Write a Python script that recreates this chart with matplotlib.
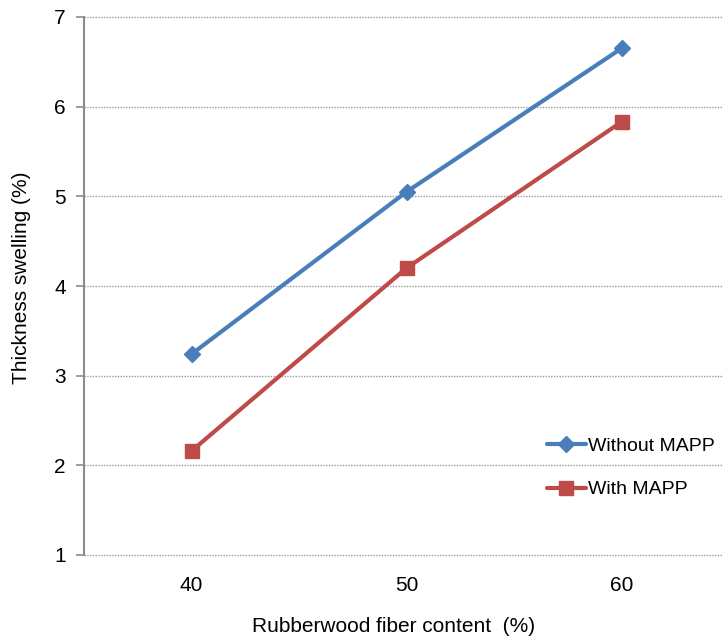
import matplotlib
matplotlib.use("Agg")
import matplotlib.pyplot as plt

categories = ["40", "50", "60"]
without_mapp = [3.24, 5.05, 6.65]
with_mapp = [2.16, 4.20, 5.83]
yticks = [1, 2, 3, 4, 5, 6, 7]

plt.rcParams['font.family'] = ['Liberation Sans', 'DejaVu Sans']

W, H = 722, 642
fig = plt.figure(figsize=(W/100, H/100), dpi=100)
left, right, top, bottom = 84, 729, 17, 555
ax = fig.add_axes([left/W, (H-bottom)/H, (right-left)/W, (bottom-top)/H])

x = list(range(len(categories)))
ax.plot(x, without_mapp, color='#4A7EBB', lw=3, marker='D', ms=8,
        label='Without MAPP', solid_capstyle='round')
ax.plot(x, with_mapp, color='#BE4B48', lw=3, marker='s', ms=10,
        label='With MAPP', solid_capstyle='round')

ax.set_xlim(-0.5, 2.5)
ax.set_ylim(1, 7)
ax.set_yticks(yticks)
ax.set_yticklabels([str(t) for t in yticks])
ax.set_xticks(x)
ax.set_xticklabels(categories)
ax.yaxis.grid(True, color='#999999', linestyle=(0, (1, 1)), lw=1)
for gl in ax.get_ygridlines():
    gl.set_clip_on(False)
ax.set_axisbelow(True)
for s in ['top', 'right', 'bottom']:
    ax.spines[s].set_visible(False)
ax.spines['left'].set_color('#8c8c8c')
ax.spines['left'].set_linewidth(1.5)
ax.tick_params(axis='y', length=6, color='#8c8c8c', width=1.2, labelsize=15, pad=7)
ax.tick_params(axis='x', length=0, labelsize=15, pad=15)

fig.text(394/W, 1-627/H, 'Rubberwood fiber content  (%)', fontsize=15,
         ha='center', va='center')
fig.text(22/W, 1-278/H, 'Thickness swelling (%)', fontsize=15,
         ha='center', va='center', rotation=90)

leg = ax.legend(loc='upper left', bbox_to_anchor=((547-left)/(right-left), 1-(437-top)/(bottom-top)),
                frameon=False, fontsize=14, handlelength=2.0, handletextpad=0.1,
                labelspacing=1.35, borderaxespad=0, borderpad=0)

fig.savefig('out.png', dpi=100)
